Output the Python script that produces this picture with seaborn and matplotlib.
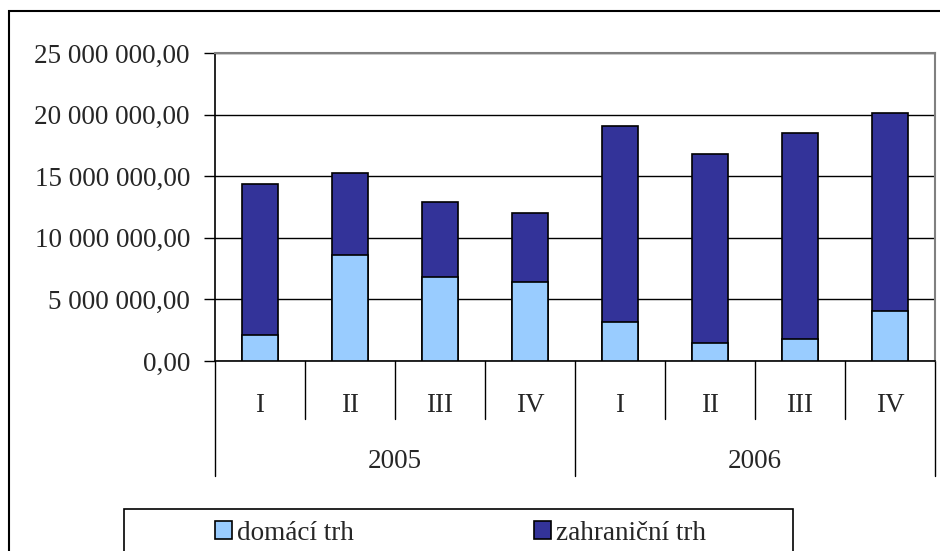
import matplotlib
matplotlib.use("Agg")
import matplotlib.pyplot as plt
import matplotlib.transforms as mtransforms
from matplotlib.patches import Rectangle, Patch
import seaborn as sns
import pandas as pd

# ---- data ----
years = ["2005", "2005", "2005", "2005", "2006", "2006", "2006", "2006"]
quarters = ["I", "II", "III", "IV", "I", "II", "III", "IV"]
domestic = [2.14e6, 8.63e6, 6.84e6, 6.44e6, 3.17e6, 1.49e6, 1.76e6, 4.08e6]
foreign = [12.23e6, 6.63e6, 6.06e6, 5.57e6, 15.88e6, 15.34e6, 16.77e6, 16.02e6]
y_ticks = [0, 5e6, 10e6, 15e6, 20e6, 25e6]
series_names = ["domácí trh", "zahraniční trh"]
year_labels = ["2005", "2006"]

c_dom = "#99CCFF"
c_for = "#333399"
FS = 19.5

sns.set_theme(style="white")
plt.rcParams["font.family"] = ["Liberation Serif", "DejaVu Serif"]

cats = [f"{y} {q}" for y, q in zip(years, quarters)]
df = pd.DataFrame({"cat": cats, "dom": domestic,
                   "total": [d + f for d, f in zip(domestic, foreign)]})

W, H = 940, 551
fig = plt.figure(figsize=(W / 100, H / 100), dpi=100)
ax = fig.add_axes([215 / W, (H - 361) / H, 720 / W, 308 / H])

sns.barplot(data=df, x="cat", y="total", order=cats, color=c_for, width=0.39,
            edgecolor="black", linewidth=1.2, saturation=1, ax=ax, zorder=3)
sns.barplot(data=df, x="cat", y="dom", order=cats, color=c_dom, width=0.39,
            edgecolor="black", linewidth=1.2, saturation=1, ax=ax, zorder=4)

ax.set_xlim(-0.5, 7.5)
ax.set_ylim(0, 25e6)
ax.set_yticks(y_ticks)


def fmt(v):
    s = f"{v:,.2f}"
    return s.replace(",", " ").replace(".", ",")


ax.set_yticklabels([fmt(v) for v in y_ticks], fontsize=FS)
ax.tick_params(axis="y", direction="out", length=8, width=1, color="black",
               pad=10, left=True)
ax.set_xticks([])
ax.set_xlabel("")
ax.set_ylabel("")
ax.yaxis.grid(True, color="black", linewidth=1)
ax.set_axisbelow(True)

for s in ["top", "right"]:
    ax.spines[s].set_color("#808080")
    ax.spines[s].set_linewidth(1.5)
for s in ["left", "bottom"]:
    ax.spines[s].set_color("black")
    ax.spines[s].set_linewidth(1.2)

trans = mtransforms.blended_transform_factory(ax.transData, ax.transAxes)
q_low = -(419 - 361) / 308
y_low = -(476 - 361) / 308
for i in range(8):
    ax.text(i, -(405 - 361) / 308, quarters[i], transform=trans, ha="center",
            va="center", fontsize=FS)
for x in [0.5, 1.5, 2.5, 4.5, 5.5, 6.5]:
    ax.plot([x, x], [0, q_low], transform=trans, color="black", lw=1,
            clip_on=False)
for x in [-0.5, 3.5, 7.5]:
    ax.plot([x, x], [0, y_low], transform=trans, color="black", lw=1,
            clip_on=False)
for j, yl in enumerate(year_labels):
    ax.text(1.5 + 4 * j, -(461 - 361) / 308, yl, transform=trans,
            ha="center", va="center", fontsize=FS)

# outer chart border
fig.patches.append(Rectangle((8.5 / W, -0.1), 1.2, (H - 11) / H + 0.1,
                             transform=fig.transFigure, fill=False,
                             edgecolor="black", linewidth=1.5))
# legend box
fig.patches.append(Rectangle((124 / W, -0.1), (793 - 124) / W,
                             (H - 509) / H + 0.1, transform=fig.transFigure,
                             fill=False, edgecolor="black", linewidth=1.2))
handles = [Patch(facecolor=c_dom, edgecolor="black", linewidth=1.2),
           Patch(facecolor=c_for, edgecolor="black", linewidth=1.2)]
fs_px = FS * 100 / 72
fig.legend(handles, series_names, loc="center left",
           bbox_to_anchor=(215 / W, (H - 533) / H), ncol=2, frameon=False,
           fontsize=FS, handlelength=17 / fs_px, handleheight=18 / fs_px,
           handletextpad=5 / fs_px, columnspacing=180 / fs_px, borderpad=0,
           borderaxespad=0)

fig.savefig("out.png", dpi=100)
